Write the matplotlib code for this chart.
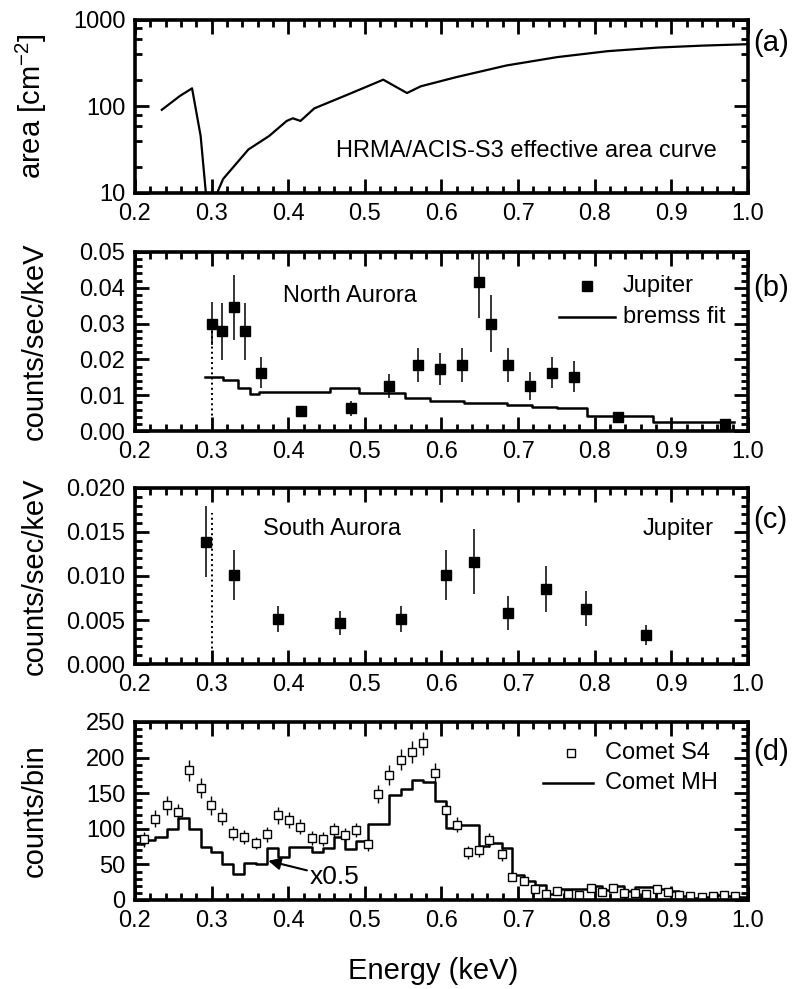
import matplotlib
matplotlib.use('Agg')
import matplotlib.pyplot as plt
from matplotlib.ticker import MultipleLocator, LogLocator, FixedLocator, FormatStrFormatter, NullFormatter

plt.rcParams['font.family'] = ['Liberation Sans', 'DejaVu Sans']
plt.rcParams['mathtext.fontset'] = 'custom'
plt.rcParams['mathtext.rm'] = 'Liberation Sans'

# (a) HRMA/ACIS-S3 effective area
area_e = [0.235, 0.259, 0.2745, 0.2857, 0.293, 0.305, 0.315, 0.348, 0.375, 0.398, 0.406,
          0.416, 0.434, 0.474, 0.500, 0.524, 0.555, 0.573, 0.619, 0.685, 0.751, 0.817,
          0.883, 0.940, 1.000]
area_v = [91.5, 133, 162, 45.5, 9.0, 9.0, 14.5, 31.8, 45.5, 68, 73,
          68, 95, 133, 166, 204, 143, 171, 218, 298, 372, 436,
          480, 505, 525]

# (b) North aurora
north_e = [0.300, 0.314, 0.329, 0.344, 0.365, 0.417, 0.482, 0.532, 0.569, 0.598,
           0.627, 0.6485, 0.664, 0.687, 0.716, 0.744, 0.7725, 0.831, 0.970]
north_v = [0.0300, 0.0278, 0.0345, 0.0278, 0.0163, 0.0056, 0.0063, 0.0125, 0.0184, 0.0173,
           0.0184, 0.0417, 0.0300, 0.0184, 0.0126, 0.0163, 0.0152, 0.0039, 0.0019]
north_err = [0.006, 0.008, 0.009, 0.008, 0.0044, 0.0015, 0.002, 0.0033, 0.0047, 0.0045,
             0.0047, 0.010, 0.008, 0.0047, 0.004, 0.0043, 0.0043, 0.001, 0.0007]
bremss_edges = [0.291, 0.3154, 0.335, 0.350, 0.3616, 0.454, 0.492, 0.553, 0.5846, 0.6288,
                0.685, 0.718, 0.751, 0.790, 0.876, 0.982]
bremss_v = [0.0150, 0.0142, 0.0121, 0.0103, 0.0108, 0.0121, 0.0105, 0.0093, 0.0083, 0.0078,
            0.0072, 0.0068, 0.0063, 0.0042, 0.0025]

# (c) South aurora
south_e = [0.2923, 0.3286, 0.3867, 0.467, 0.5476, 0.6057, 0.642, 0.6868, 0.736, 0.7884, 0.8675]
south_v = [0.0139, 0.0101, 0.0051, 0.00464, 0.0051, 0.0101, 0.0116, 0.0058, 0.0085, 0.0063, 0.0033]
south_err = [0.0040, 0.0028, 0.0015, 0.0014, 0.0015, 0.0028, 0.0037, 0.0019, 0.0026, 0.0020, 0.0011]

# (d) comets
s4_e = [0.212, 0.226, 0.2416, 0.256, 0.271, 0.2858, 0.299, 0.3135, 0.328, 0.3427,
        0.3575, 0.3718, 0.387, 0.4014, 0.416, 0.4306, 0.445, 0.4597, 0.474, 0.4884,
        0.5037, 0.5175, 0.532, 0.547, 0.562, 0.5763, 0.5915, 0.606, 0.6198, 0.6342,
        0.6485, 0.6624, 0.6784, 0.6923, 0.7076, 0.722, 0.7364, 0.7511, 0.7654, 0.7798,
        0.7947, 0.809, 0.8234, 0.838, 0.8525, 0.8669, 0.8816, 0.896, 0.910, 0.925,
        0.9395, 0.954, 0.9686, 0.983]
s4_counts = [85, 114, 133, 123, 182, 157, 133, 117, 94, 88,
             80, 92, 119, 112, 103, 87, 86, 98, 91, 98,
             78, 149, 175, 197, 208, 220, 178, 126, 106, 67,
             70, 84, 64, 32, 27, 15, 8, 12, 8, 7,
             17, 11, 17, 10, 10, 9, 15, 11, 7, 6,
             4, 6, 7, 6]
s4_err = [10, 12, 13, 12, 15, 14, 13, 12, 10, 10,
          9, 10, 12, 11, 11, 10, 10, 10, 10, 10,
          9, 13, 14, 15, 15, 16, 14, 12, 11, 9,
          9, 10, 9, 6, 6, 4, 3, 4, 3, 3,
          4, 3, 4, 3, 3, 3, 4, 3, 3, 2,
          2, 2, 3, 2]
mh_edges = [0.2] + s4_e + [1.0]
mh_counts = [79, 84, 88, 100, 115, 99, 75, 67, 50, 37,
             52, 51, 73, 61, 74, 75, 67, 73, 88, 72,
             83, 107, 107, 148, 156, 169, 165, 139, 101, 105,
             106, 76, 80, 73, 35, 26, 21, 8, 15, 15,
             15, 20, 14, 20, 13, 18, 18, 15, 12, 5,
             3, 4, 7, 5, 4]

TICK_FS = 17
LABEL_FS = 21
TEXT_FS = 17

fig = plt.figure(figsize=(7.94, 9.89), dpi=100)
left, width = 0.170, 0.772
ax_a = fig.add_axes([left, 0.8049, width, 0.1749])
ax_b = fig.add_axes([left, 0.5642, width, 0.1810])
ax_c = fig.add_axes([left, 0.3286, width, 0.1780])
ax_d = fig.add_axes([left, 0.0900, width, 0.1800])


def style(ax):
    for s in ax.spines.values():
        s.set_linewidth(2.6)
    ax.set_xlim(0.2, 1.0)
    ax.xaxis.set_major_locator(MultipleLocator(0.1))
    ax.xaxis.set_minor_locator(MultipleLocator(0.02))
    ax.xaxis.set_major_formatter(FormatStrFormatter('%.1f'))
    ax.tick_params(which='both', direction='in', top=True, right=True,
                   labelsize=TICK_FS)
    ax.tick_params(which='major', length=10, width=2)
    ax.tick_params(which='minor', length=5, width=2)
    ax.tick_params(axis='x', pad=7)
    ax.tick_params(axis='y', pad=7)
    ax.yaxis.set_label_coords(-0.14, 0.5)


# (a)
ax_a.plot(area_e, area_v, color='black', lw=1.6)
ax_a.set_yscale('log')
ax_a.set_ylim(10, 1000)
ax_a.yaxis.set_major_locator(FixedLocator([10, 100, 1000]))
ax_a.yaxis.set_major_formatter(FormatStrFormatter('%d'))
ax_a.yaxis.set_minor_locator(LogLocator(base=10, subs=(2, 4, 6, 8)))
ax_a.yaxis.set_minor_formatter(NullFormatter())
style(ax_a)
ax_a.set_ylabel('area [cm$^{\\mathregular{-2}}$]', fontsize=LABEL_FS)
ax_a.text(0.711, 30.4, 'HRMA/ACIS-S3 effective area curve', fontsize=TEXT_FS,
          ha='center', va='center')
ax_a.text(1.008, 0.867, '(a)', transform=ax_a.transAxes, fontsize=LABEL_FS,
          ha='left', va='center')

# (b)
ax_b.plot([0.3, 0.3], [0, 0.030], color='black', lw=1.4, ls=':')
ax_b.errorbar(north_e, north_v, yerr=north_err, fmt='s', color='black',
              ms=6.5, elinewidth=1.1, capsize=0)
ax_b.plot(bremss_edges, bremss_v + [bremss_v[-1]], drawstyle='steps-post',
          color='black', lw=1.8)
ax_b.set_ylim(0, 0.05)
ax_b.yaxis.set_major_locator(MultipleLocator(0.01))
ax_b.yaxis.set_minor_locator(MultipleLocator(0.002))
ax_b.yaxis.set_major_formatter(FormatStrFormatter('%.2f'))
style(ax_b)
ax_b.set_ylabel('counts/sec/keV', fontsize=LABEL_FS)
ax_b.text(0.48, 0.0378, 'North Aurora', fontsize=TEXT_FS, ha='center', va='center')
ax_b.plot([0.79], [0.0405], 's', color='black', ms=6.5)
ax_b.text(0.8365, 0.0405, 'Jupiter', fontsize=TEXT_FS, ha='left', va='center')
ax_b.plot([0.754, 0.827], [0.0318, 0.0318], color='black', lw=1.8)
ax_b.text(0.8365, 0.0318, 'bremss fit', fontsize=TEXT_FS, ha='left', va='center')
ax_b.text(1.008, 0.80, '(b)', transform=ax_b.transAxes, fontsize=LABEL_FS,
          ha='left', va='center')

# (c)
ax_c.plot([0.3, 0.3], [0, 0.0172], color='black', lw=1.4, ls=':')
ax_c.errorbar(south_e, south_v, yerr=south_err, fmt='s', color='black',
              ms=6.5, elinewidth=1.1, capsize=0)
ax_c.set_ylim(0, 0.02)
ax_c.yaxis.set_major_locator(MultipleLocator(0.005))
ax_c.yaxis.set_minor_locator(MultipleLocator(0.001))
ax_c.yaxis.set_major_formatter(FormatStrFormatter('%.3f'))
style(ax_c)
ax_c.set_ylabel('counts/sec/keV', fontsize=LABEL_FS)
ax_c.text(0.457, 0.0153, 'South Aurora', fontsize=TEXT_FS, ha='center', va='center')
ax_c.text(0.909, 0.0153, 'Jupiter', fontsize=TEXT_FS, ha='center', va='center')
ax_c.text(1.008, 0.82, '(c)', transform=ax_c.transAxes, fontsize=LABEL_FS,
          ha='left', va='center')

# (d)
ax_d.plot(mh_edges, mh_counts + [mh_counts[-1]], drawstyle='steps-post',
          color='black', lw=1.8)
ax_d.errorbar(s4_e, s4_counts, yerr=s4_err, fmt='s', color='black', mfc='white',
              mec='black', mew=1.0, ms=5.5, elinewidth=1.0, capsize=0)
ax_d.set_ylim(0, 250)
ax_d.yaxis.set_major_locator(MultipleLocator(50))
ax_d.yaxis.set_minor_locator(MultipleLocator(10))
style(ax_d)
ax_d.set_ylabel('counts/bin', fontsize=LABEL_FS)
ax_d.set_xlabel('Energy (keV)', fontsize=LABEL_FS)
ax_d.xaxis.set_label_coords(0.486, -0.32)
ax_d.annotate('x0.5', xy=(0.374, 55), xytext=(0.428, 32), fontsize=19,
              ha='left', va='center',
              arrowprops=dict(arrowstyle='-|>', color='black', lw=1.5,
                              mutation_scale=18, shrinkA=0, shrinkB=0))
ax_d.plot([0.769], [206], 's', color='black', mfc='white', mew=1.0, ms=5.5)
ax_d.text(0.8135, 206, 'Comet S4', fontsize=TEXT_FS, ha='left', va='center')
ax_d.plot([0.732, 0.798], [164, 164], color='black', lw=1.8)
ax_d.text(0.8135, 164, 'Comet MH', fontsize=TEXT_FS, ha='left', va='center')
ax_d.text(1.008, 0.83, '(d)', transform=ax_d.transAxes, fontsize=LABEL_FS,
          ha='left', va='center')

fig.savefig('out.png', dpi=100)
